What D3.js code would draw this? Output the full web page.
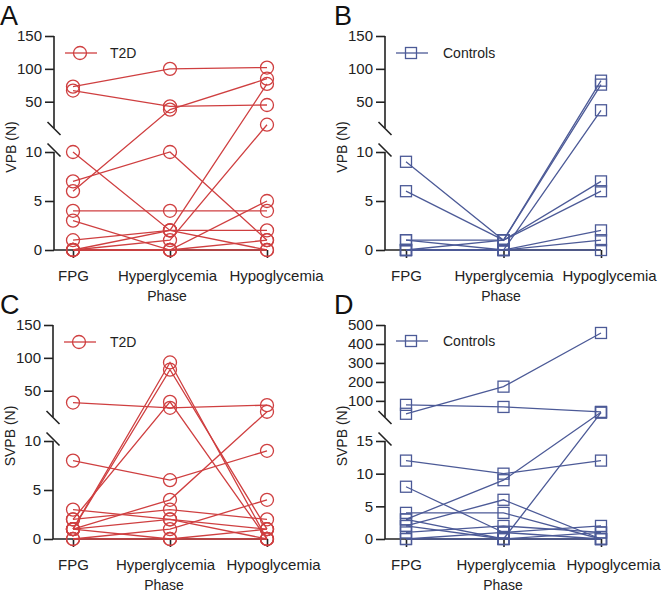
<!DOCTYPE html>
<html>
<head>
<meta charset="utf-8">
<script src="https://cdn.jsdelivr.net/npm/d3@7"></script>
<style>
  html, body { margin: 0; padding: 0; background: #fff; }
  svg { display: block; font-family: "Liberation Sans", Arial, sans-serif; }
</style>
</head>
<body>
<svg id="chart" width="661" height="594"></svg>
<script>
// ---------- data ----------
const phases = ["FPG", "Hyperglycemia", "Hypoglycemia"];

// each row: one subject, values at FPG, Hyperglycemia, Hypoglycemia
const vpbT2D = [
  [73, 100, 102], [67, 43, 45], [6, 38, 85], [7, 10, 1], [10, 2, 0], [4, 4, 4],
  [3, 0, 5], [1, 2, 2], [0, 2, 77], [0, 1, 15], [0, 0, 1], [0, 0, 0]
];
const vpbControls = [
  [9, 1, 82], [6, 1, 76], [1, 1, 7], [1, 0, 37], [0, 1, 6], [0, 0, 2], [0, 0, 1], [0, 0, 0]
];
const svpbT2D = [
  [32, 24, 28], [8, 6, 9], [1, 93, 0], [1, 82, 1], [2, 33, 0], [1, 4, 18],
  [3, 2, 0], [2, 3, 2], [1, 2, 1], [0, 1, 4], [1, 0, 0], [0, 0, 1]
];
const svpbControls = [
  [32, 175, 458], [79, 68, 42], [12, 10, 12], [8, 1, 0], [3, 9, 40], [2, 6, 0],
  [4, 4, 0], [3, 0, 38], [1, 2, 1], [0, 1, 2], [0, 0, 0], [2, 0, 1]
];

const ticksVPBLower = [0, 5, 10];
const ticksVPBUpper = [50, 100, 150];
const ticksSVPBT2DLower = [0, 5, 10];
const ticksSVPBT2DUpper = [50, 100, 150];
const ticksSVPBCtrlLower = [0, 5, 10, 15];
const ticksSVPBCtrlUpper = [100, 200, 300, 400, 500];

const RED = "#cf3f40";
const BLUE = "#4c5a97";

const svg = d3.select("#chart");

function panel(cfg) {
  const g = svg.append("g").attr("transform", `translate(0,${cfg.top})`);
  const ax = cfg.ax;
  const H = 214;
  const upperBottom = 92, lowerTop = 116;

  const yUp = d3.scaleLinear().domain([cfg.split, cfg.max]).range([upperBottom, 0]);
  const yLo = d3.scaleLinear().domain([0, cfg.split]).range([H, lowerTop]);
  const y = v => v <= cfg.split ? yLo(v) : yUp(v);

  const x = d3.scalePoint().domain(phases).range(cfg.xr);

  // y axis upper
  const gu = g.append("g").attr("transform", `translate(${ax},0)`)
    .call(d3.axisLeft(yUp).tickValues(cfg.ticksUp).tickSize(9).tickPadding(3).tickSizeOuter(0));
  gu.select(".domain").remove();
  gu.append("line").attr("x1", 0).attr("x2", 0).attr("y1", 0).attr("y2", upperBottom);
  // y axis lower
  const gl = g.append("g").attr("transform", `translate(${ax},0)`)
    .call(d3.axisLeft(yLo).tickValues(cfg.ticksLo).tickSize(9).tickPadding(3).tickSizeOuter(0));
  gl.select(".domain").remove();
  gl.append("line").attr("x1", 0).attr("x2", 0).attr("y1", lowerTop).attr("y2", H);
  [gu, gl].forEach(a => {
    a.selectAll("line").attr("stroke", "#222").attr("stroke-width", 1.6);
    a.selectAll("text").attr("font-size", 15).attr("fill", "#222")
      .attr("font-family", "Liberation Sans, Arial, sans-serif");
  });
  // break marks
  [[upperBottom + 0.5], [lowerTop - 2]].forEach(([cy]) => {
    g.append("line").attr("x1", ax - 6.5).attr("y1", cy - 6.5)
      .attr("x2", ax + 6.5).attr("y2", cy + 6.5)
      .attr("stroke", "#222").attr("stroke-width", 1.6);
  });

  // x axis
  const gx = g.append("g").attr("transform", `translate(0,${H})`)
    .call(d3.axisBottom(x).tickSize(8).tickPadding(12).tickSizeOuter(0));
  gx.select(".domain").remove();
  gx.append("line").attr("x1", ax).attr("x2", cfg.xr[1]).attr("y1", 0).attr("y2", 0);
  gx.selectAll("line").attr("stroke", "#222").attr("stroke-width", 1.6);
  gx.selectAll("text").attr("font-size", 15).attr("fill", "#222")
    .attr("font-family", "Liberation Sans, Arial, sans-serif")
    .attr("dx", (d, i) => cfg.labelDx[i]);

  // axis titles
  g.append("text").attr("x", cfg.phaseX).attr("y", H + 51)
    .attr("text-anchor", "middle").attr("font-size", 14).attr("fill", "#222").text("Phase");
  g.append("text").attr("transform", `translate(${ax - 38},${111}) rotate(-90)`)
    .attr("text-anchor", "middle").attr("font-size", 14).attr("fill", "#222").text(cfg.ylabel);

  // panel letter
  g.append("text").attr("x", cfg.letterX).attr("y", -11).attr("font-size", 27)
    .attr("fill", "#111").text(cfg.letter);

  // data lines
  const line = d3.line().x((d, i) => x(phases[i])).y(d => y(d));
  g.append("g").selectAll("path").data(cfg.data).join("path")
    .attr("d", line).attr("fill", "none").attr("stroke", cfg.color).attr("stroke-width", 1.3);

  // markers
  const pts = [];
  cfg.data.forEach(s => s.forEach((v, i) => pts.push({ x: x(phases[i]), y: y(v) })));
  drawMarkers(g, pts, cfg);

  // legend
  const ly = cfg.legendY;
  g.append("line").attr("x1", ax + 11).attr("x2", ax + 43).attr("y1", ly).attr("y2", ly)
    .attr("stroke", cfg.color).attr("stroke-width", 1.3);
  drawMarkers(g, [{ x: ax + 26, y: ly }], cfg);
  g.append("text").attr("x", ax + cfg.legendTextDx).attr("y", ly + 5).attr("font-size", 14)
    .attr("fill", "#222").text(cfg.name);
}

function drawMarkers(g, pts, cfg) {
  if (cfg.marker === "circle") {
    g.append("g").selectAll("circle").data(pts).join("circle")
      .attr("cx", d => d.x).attr("cy", d => d.y).attr("r", 6.5)
      .attr("fill", "none").attr("stroke", cfg.color).attr("stroke-width", 1.3);
  } else {
    g.append("g").selectAll("rect").data(pts).join("rect")
      .attr("x", d => d.x - 5.5).attr("y", d => d.y - 5.5).attr("width", 11).attr("height", 11)
      .attr("fill", "none").attr("stroke", cfg.color).attr("stroke-width", 1.3);
  }
}

panel({ top: 36, ax: 54, xr: [73, 267], split: 10, max: 150,
  ticksUp: ticksVPBUpper, ticksLo: ticksVPBLower, data: vpbT2D, color: RED,
  marker: "circle", ylabel: "VPB (N)", letter: "A", letterX: 0, name: "T2D",
  legendY: 17, legendTextDx: 56, labelDx: [0, -3, 9], phaseX: 167 });
panel({ top: 36, ax: 385, xr: [406, 601], split: 10, max: 150,
  ticksUp: ticksVPBUpper, ticksLo: ticksVPBLower, data: vpbControls, color: BLUE,
  marker: "square", ylabel: "VPB (N)", letter: "B", letterX: 334, name: "Controls",
  legendY: 17, legendTextDx: 58, labelDx: [0, 0, 8], phaseX: 501 });
panel({ top: 325, ax: 53, xr: [73, 267], split: 10, max: 150,
  ticksUp: ticksSVPBT2DUpper, ticksLo: ticksSVPBT2DLower, data: svpbT2D, color: RED,
  marker: "circle", ylabel: "SVPB (N)", letter: "C", letterX: 0, name: "T2D",
  legendY: 17, legendTextDx: 57, labelDx: [0, -5, 6], phaseX: 164 });
panel({ top: 325, ax: 385, xr: [406, 601], split: 15, max: 500,
  ticksUp: ticksSVPBCtrlUpper, ticksLo: ticksSVPBCtrlLower, data: svpbControls, color: BLUE,
  marker: "square", ylabel: "SVPB (N)", letter: "D", letterX: 334, name: "Controls",
  legendY: 16, legendTextDx: 58, labelDx: [0, 2, 12], phaseX: 503 });
</script>
</body>
</html>
